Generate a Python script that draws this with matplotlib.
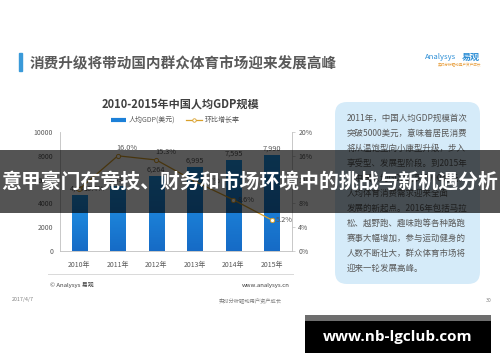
import matplotlib

matplotlib.use("Agg")
import matplotlib.pyplot as plt
import numpy as np
from matplotlib.colors import LinearSegmentedColormap
from matplotlib.lines import Line2D
from matplotlib.patches import FancyBboxPatch, Rectangle

plt.rcParams["font.family"] = ["Noto Sans CJK SC", "DejaVu Sans"]

# 数据
years = ["2010年", "2011年", "2012年", "2013年", "2014年", "2015年"]
gdp = [4684, 5434, 6264, 6995, 7595, 7990]          # 人均GDP(美元)
growth = [10.4, 16.0, 15.3, 11.7, 8.6, 5.2]          # 环比增长率 %
gdp_ticks = [0, 2000, 4000, 6000, 8000, 10000]
growth_ticks = [0, 4, 8, 12, 16, 20]

page_title = "消费升级将带动国内群众体育市场迎来发展高峰"
chart_title = "2010-2015年中国人均GDP规模"
banner = "意甲豪门在竞技、财务和市场环境中的挑战与新机遇分析"
site = "www.nb-lgclub.com"
note_lines = [
    "2011年，中国人均GDP规模首次",
    "突破5000美元，意味着居民消费",
    "将从温饱型向小康型升级，步入",
    "享受型、发展型阶段。到2015年",
    "，中国人均GDP达到7990美元，",
    "人均体育消费需求迎来全面",
    "发展的新起点。2016年包括马拉",
    "松、越野跑、趣味跑等各种路跑",
    "赛事大幅增加，参与运动健身的",
    "人数不断壮大，群众体育市场将",
    "迎来一轮发展高峰。",
]

W, H = 500, 362
fig = plt.figure(figsize=(W / 100, H / 100), dpi=100)
fig.patch.set_facecolor("white")
inch = fig.dpi_scale_trans


def py(y):
    # 像素(自上而下) -> 英寸(自下而上)
    return (H - y) / 100


GRAY = "#595959"
LINE_C = "#bfbfbf"

# ---- 图表 ----
ax = fig.add_axes([60 / W, 1 - 251 / H, 232 / W, 119 / H])
x = np.arange(len(years))
bars = ax.bar(x, gdp, width=0.4, color="none", zorder=2)
cmap = LinearSegmentedColormap.from_list("bar", ["#166bc6", "#2196e8"])
grad = np.linspace(0, 1, 64).reshape(-1, 1)
for b in bars:
    x0, w, h = b.get_x(), b.get_width(), b.get_height()
    ax.imshow(grad, extent=[x0, x0 + w, 0, h], aspect="auto", cmap=cmap,
              origin="lower", zorder=2)
ax.set_xlim(-0.5, 5.52)
ax.set_ylim(0, 10000)
ax.set_yticks(gdp_ticks)
ax.set_xticks(x)
ax.set_xticklabels(years)
ax.tick_params(axis="y", length=0, pad=5, labelsize=5, labelcolor=GRAY)
ax.tick_params(axis="x", length=0, pad=7, labelsize=5, labelcolor=GRAY)
for s in ["top", "right"]:
    ax.spines[s].set_visible(False)
for s in ["left", "bottom"]:
    ax.spines[s].set_color(LINE_C)
    ax.spines[s].set_linewidth(0.6)
for xi, v in zip(x, gdp):
    ax.annotate(f"{v:,}", (xi, v), xytext=(0, 2), textcoords="offset points",
                ha="center", va="bottom", fontsize=5.3, color=GRAY, zorder=3)

ax2 = ax.twinx()
ax2.plot(x, growth, color="#d9a02a", lw=0.9, marker="o", ms=3,
         mfc="white", mec="#d9a02a", mew=0.7, zorder=4)
ax2.set_ylim(0, 20)
ax2.set_yticks(growth_ticks)
ax2.set_yticklabels([f"{t}%" for t in growth_ticks])
ax2.tick_params(axis="y", length=2.5, width=0.5, color=LINE_C, pad=2,
                labelsize=5, labelcolor=GRAY)
for s in ["top", "left", "bottom"]:
    ax2.spines[s].set_visible(False)
ax2.spines["right"].set_color(LINE_C)
ax2.spines["right"].set_linewidth(0.6)
offsets = [(3, 0), (-1, 3), (-1, 3), (3, 0), (3, 0), (3, 0)]
for xi, v, off in zip(x, growth, offsets):
    ax2.annotate(f"{v:.1f}%", (xi, v), xytext=off, textcoords="offset points",
                 ha="left", va="bottom" if off[1] else "center",
                 fontsize=5.3, color=GRAY, zorder=5)

fig.text(180 / W, 1 - 104 / H, chart_title, ha="center", va="center",
         fontsize=8, fontweight="bold", color="#404040")
handles = [Line2D([], [], color="#1c80d8", lw=3, solid_capstyle="butt"),
           Line2D([], [], color="#d9a02a", lw=0.9, marker="o", ms=2.5,
                  mfc="white", mec="#d9a02a", mew=0.6)]
fig.legend(handles, ["人均GDP(美元)", "环比增长率"], loc="center",
           bbox_to_anchor=(175 / W, 1 - 120 / H), ncol=2, frameon=False,
           fontsize=5, handlelength=2.2, handletextpad=0.4, columnspacing=1.6,
           labelcolor=GRAY)

# ---- 页面标题 ----
fig.patches.append(Rectangle((19 / 100, py(71)), 3 / 100, 18 / 100,
                             color="#3a9ad9", transform=inch, figure=fig))
fig.text(30 / W, 1 - 63 / H, page_title, ha="left", va="center",
         fontsize=10.5, fontweight="bold", color=GRAY)
fig.text(425 / W, 1 - 57 / H, "Analysys", ha="left", va="center",
         fontsize=5.5, style="italic", color="#2e8fd6")
fig.text(462 / W, 1 - 57 / H, "易观", ha="left", va="center",
         fontsize=6.5, fontweight="bold", color="#2e8fd6")
fig.text(459 / W, 1 - 65.5 / H, "实时分析驱动用户资产成长", ha="center",
         va="center", fontsize=2.6, color="#e8a040")

# ---- 右侧说明框 ----
fig.patches.append(FancyBboxPatch((335 / 100, py(284)), 145 / 100, 182 / 100,
                                  boxstyle="round,pad=0,rounding_size=0.12",
                                  fc="#d5ebf9", ec="none", transform=inch,
                                  figure=fig))
for i, line in enumerate(note_lines):
    fig.text(347 / W, 1 - (118.5 + 15 * i) / H, line, ha="left", va="center",
             fontsize=6.1, color=GRAY)

# ---- 页脚 ----
fig.lines.append(Line2D([48 / W, 293 / W], [1 - 274 / H, 1 - 274 / H],
                        color="#d9d9d9", lw=0.7, transform=fig.transFigure))
fig.text(50 / W, 1 - 285 / H, "© Analysys 易观", ha="left", va="center",
         fontsize=4.3, color="#404040")
fig.text(290 / W, 1 - 285 / H, "www.analysys.cn", ha="right", va="center",
         fontsize=4.3, color="#404040")
fig.text(12 / W, 1 - 300 / H, "2017/4/7", ha="left", va="center",
         fontsize=3.8, color="#808080")
fig.text(250 / W, 1 - 300 / H, "实时分析驱动用户资产成长", ha="center",
         va="center", fontsize=3.8, color="#808080")
fig.text(492 / W, 1 - 300 / H, "30", ha="right", va="center",
         fontsize=3.8, color="#808080")

# ---- 覆盖横幅 ----
fig.patches.append(Rectangle((0, py(213)), W / 100, 63 / 100, fc="black",
                             alpha=0.67, ec="none", transform=inch, figure=fig,
                             zorder=10))
fig.text(0.5, 1 - 181 / H, banner, ha="center", va="center", fontsize=14.3,
         fontweight="bold", color="white", zorder=11)

fig.patches.append(Rectangle((305 / 100, py(321)), 186 / 100, 6 / 100,
                             fc="#6e6e6e", ec="none", transform=inch,
                             figure=fig, zorder=10))
fig.patches.append(Rectangle((305 / 100, py(353)), 186 / 100, 32 / 100,
                             fc="black", ec="none", transform=inch,
                             figure=fig, zorder=10))
fig.text(398 / W, 1 - 337 / H, site, ha="center", va="center", fontsize=11,
         fontweight="bold", color="white", family=["Open Sans", "DejaVu Sans"],
         zorder=11)

fig.savefig("out.png", dpi=100)
